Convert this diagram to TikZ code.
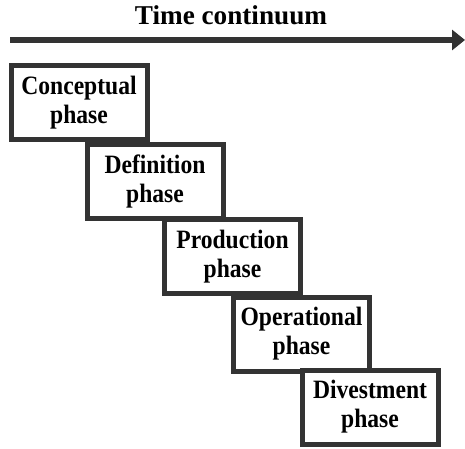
\documentclass[tikz,border=0pt]{standalone}
\usepackage{fontspec}
\setmainfont{Liberation Serif}
\newfontfamily\narrowserif{Liberation Serif}[FakeStretch=0.89]
\usetikzlibrary{arrows.meta}
\begin{document}
\begin{tikzpicture}[x=1pt,y=1pt,
  phasebox/.style={draw=black!80, line width=5pt, fill=white,
    minimum width=136pt, minimum height=74pt, inner sep=0pt,
    align=center, font=\narrowserif\fontsize{26.5}{29}\selectfont\bfseries},
  timeline/.style={draw=black!80, line width=6pt,
    -{Triangle[length=13pt,width=20pt]}}]
  \useasboundingbox (0,0) rectangle (465,448);
  % time axis
  \coordinate (tstart) at (10,408);
  \coordinate (tend) at (465,408);
  \draw[timeline] (tstart) -- (tend);
  \node[anchor=base, font=\fontsize{27.2}{29}\selectfont\bfseries] (title) at (231,423) {Time continuum};
  % staircase of phases
  \node[phasebox] (p1) at (79,345.5) {Conceptual\\phase};
  \node[phasebox] (p2) at (155,266.5) {Definition\\phase};
  \node[phasebox] (p3) at (232.5,191.5) {Production\\phase};
  \node[phasebox] (p4) at (301.5,114) {Operational\\phase};
  \node[phasebox] (p5) at (370,41) {Divestment\\phase};
\end{tikzpicture}
\end{document}
